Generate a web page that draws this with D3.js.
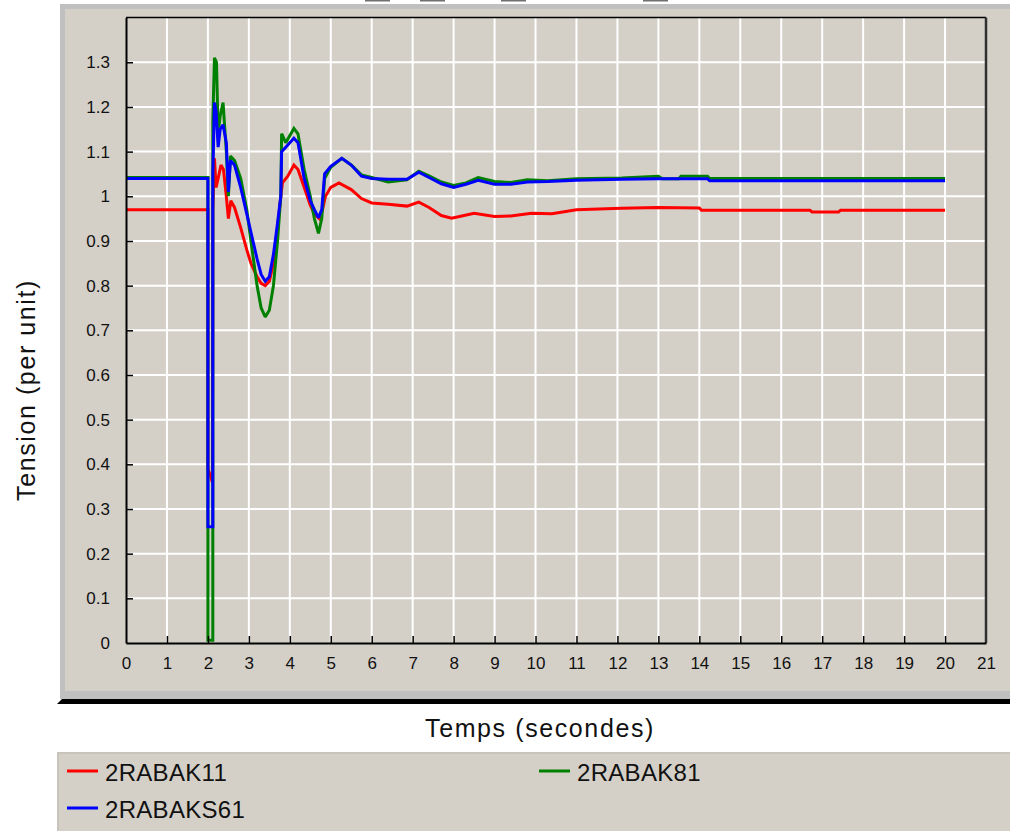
<!DOCTYPE html>
<html>
<head>
<meta charset="utf-8">
<script src="https://cdn.jsdelivr.net/npm/d3@7"></script>
<style>
  body { margin: 0; background: #ffffff; }
  svg { display: block; font-family: "Liberation Sans", Arial, sans-serif; }
</style>
</head>
<body>
<script>
// series: [temps (s), tension (pu)]
const serie2RABAK11 = [[0,0.97],[2.0,0.97],[2.0,0.39],[2.11,0.36],[2.12,0.97],[2.16,1.085],[2.2,1.02],[2.25,1.04],[2.32,1.07],[2.38,1.06],
  [2.45,1.0],[2.5,0.95],[2.56,0.99],[2.65,0.975],[2.8,0.93],[2.95,0.88],[3.05,0.85],[3.2,0.82],[3.3,0.805],[3.4,0.80],
  [3.5,0.81],[3.6,0.85],[3.7,0.93],[3.78,1.0],[3.82,1.03],[3.95,1.045],[4.1,1.07],[4.2,1.06],[4.35,1.02],[4.5,0.98],
  [4.6,0.96],[4.72,0.95],[4.8,0.97],[4.87,1.0],[5.0,1.02],[5.2,1.03],[5.5,1.015],[5.75,0.995],[6.0,0.985],[6.4,0.982],
  [6.86,0.978],[7.15,0.987],[7.4,0.975],[7.7,0.957],[7.95,0.951],[8.2,0.956],[8.5,0.962],[9.0,0.955],[9.4,0.956],[9.9,0.962],
  [10.4,0.961],[11.0,0.97],[12.1,0.973],[13.0,0.975],[14.0,0.974],[14.05,0.969],[16.7,0.969],[16.75,0.965],[17.4,0.965],[17.45,0.969],[20,0.969]];

const serie2RABAK81 = [[0,1.042],[2.0,1.042],[2.0,0.006],[2.12,0.006],[2.12,1.17],[2.16,1.31],[2.21,1.30],[2.25,1.14],[2.3,1.18],[2.37,1.21],
  [2.45,1.1],[2.5,1.0],[2.55,1.09],[2.65,1.08],[2.8,1.04],[2.95,0.97],[3.05,0.90],[3.2,0.80],[3.3,0.75],[3.4,0.73],
  [3.5,0.745],[3.6,0.80],[3.7,0.90],[3.78,1.0],[3.8,1.14],[3.9,1.12],[4.1,1.152],[4.2,1.14],[4.35,1.06],[4.5,1.0],
  [4.6,0.95],[4.7,0.917],[4.78,0.95],[4.85,1.04],[5.0,1.065],[5.27,1.085],[5.5,1.07],[5.75,1.048],[6.0,1.042],[6.4,1.032],
  [6.86,1.037],[7.15,1.056],[7.4,1.046],[7.7,1.032],[8.0,1.024],[8.3,1.03],[8.6,1.042],[9.0,1.033],[9.4,1.031],[9.8,1.037],
  [10.3,1.035],[11.0,1.039],[12.1,1.041],[13.0,1.045],[13.1,1.039],[13.5,1.039],[13.55,1.045],[14.2,1.045],[14.25,1.04],[20,1.04]];

const serie2RABAKS61 = [[0,1.04],[2.0,1.04],[2.0,0.26],[2.12,0.26],[2.12,1.05],[2.16,1.21],[2.2,1.19],[2.25,1.11],[2.3,1.15],[2.37,1.16],
  [2.45,1.12],[2.5,1.01],[2.55,1.08],[2.65,1.07],[2.8,1.02],[2.95,0.96],[3.05,0.92],[3.2,0.86],[3.3,0.825],[3.4,0.81],
  [3.5,0.82],[3.6,0.87],[3.7,0.94],[3.78,1.0],[3.8,1.10],[3.9,1.11],[4.1,1.13],[4.2,1.12],[4.35,1.04],[4.5,0.99],
  [4.6,0.97],[4.7,0.952],[4.78,0.97],[4.85,1.05],[5.0,1.067],[5.27,1.085],[5.5,1.07],[5.75,1.045],[6.0,1.04],[6.4,1.038],
  [6.86,1.038],[7.15,1.054],[7.4,1.042],[7.7,1.028],[8.0,1.02],[8.3,1.027],[8.6,1.036],[9.0,1.027],[9.4,1.027],[9.8,1.032],
  [10.3,1.033],[11.0,1.036],[12.1,1.038],[13.0,1.039],[14.2,1.039],[14.25,1.035],[20,1.035]];

const seriesNames = ["2RABAK11", "2RABAK81", "2RABAKS61"];
const seriesColors = ["#ff0000", "#008000", "#0000ff"];
const seriesData = [serie2RABAK11, serie2RABAK81, serie2RABAKS61];

const xTicks = d3.range(0, 22, 1);            // 0 .. 21
const yTicks = d3.range(0, 14).map(d => d / 10); // 0 .. 1.3
const xTitle = "Temps (secondes)";
const yTitle = "Tension (per unit)";

const W = 1010, H = 831;
const plot = { left: 126, right: 986, top: 17.6, bottom: 643 };

const svg = d3.select("body").append("svg").attr("width", W).attr("height", H);

// grey window panel behind the plot
svg.append("rect").attr("x", 60).attr("y", 4).attr("width", 960).attr("height", 695).attr("fill", "#c0c0c0");
svg.append("rect").attr("x", 65).attr("y", 9).attr("width", 955).attr("height", 682).attr("fill", "#d4d0c8");
svg.append("path").attr("d", "M57,704 L62,699 L1010,699 L1010,704 Z").attr("fill", "#000");

// what is left of the clipped title on the top edge
for (const [a, b] of [[365, 390], [420, 445], [501, 526], [643, 668]]) {
  svg.append("rect").attr("x", a).attr("y", 0).attr("width", b - a).attr("height", 1.5).attr("fill", "#707070");
}

const x = d3.scaleLinear().domain([0, 21]).range([plot.left, plot.right]);
const y = d3.scaleLinear().domain([0, 1.4]).range([plot.bottom, plot.top]);

// grid
const grid = svg.append("g").attr("stroke", "#ffffff").attr("stroke-width", 2);
grid.selectAll("line.v").data(xTicks.slice(1, -1)).join("line").attr("class", "v")
  .attr("x1", d => x(d)).attr("x2", d => x(d)).attr("y1", plot.top).attr("y2", plot.bottom);
grid.selectAll("line.h").data(yTicks.slice(1)).join("line").attr("class", "h")
  .attr("x1", plot.left).attr("x2", plot.right).attr("y1", d => y(d)).attr("y2", d => y(d));

// frame top / right
svg.append("line").attr("x1", plot.left).attr("x2", plot.right).attr("y1", plot.top).attr("y2", plot.top)
  .attr("stroke", "#000").attr("stroke-width", 1.5);
svg.append("line").attr("x1", plot.right).attr("x2", plot.right).attr("y1", plot.top).attr("y2", plot.bottom)
  .attr("stroke", "#303030").attr("stroke-width", 2.5);

// series
svg.append("clipPath").attr("id", "clip").append("rect")
  .attr("x", plot.left).attr("y", plot.top).attr("width", plot.right - plot.left).attr("height", plot.bottom - plot.top);
const line = d3.line().x(d => x(d[0])).y(d => y(d[1]));
svg.append("g").attr("clip-path", "url(#clip)")
  .selectAll("path").data(seriesData).join("path")
  .attr("d", line).attr("fill", "none")
  .attr("stroke", (d, i) => seriesColors[i]).attr("stroke-width", 3)
  .attr("stroke-linejoin", "miter").attr("stroke-miterlimit", 2);

// axes: ticks point into the plot
const xAxis = d3.axisBottom(x).tickValues(xTicks).tickSizeInner(-7).tickSizeOuter(0).tickPadding(14).tickFormat(d3.format("d"));
const yAxis = d3.axisLeft(y).tickValues(yTicks).tickSizeInner(-7).tickSizeOuter(0).tickPadding(16).tickFormat(d => String(+d.toFixed(1)));

const gx = svg.append("g").attr("transform", `translate(0,${plot.bottom})`).call(xAxis);
const gy = svg.append("g").attr("transform", `translate(${plot.left},0)`).call(yAxis);
for (const g of [gx, gy]) {
  g.select(".domain").attr("stroke", "#000").attr("stroke-width", 2);
  g.selectAll(".tick line").attr("stroke", "#000").attr("stroke-width", 1.5);
  g.selectAll("text").attr("fill", "#111").style("font-size", "17px").attr("font-family", "Liberation Sans, Arial, sans-serif");
}
gx.selectAll(".tick line").filter(d => d === 0 || d === 21).remove();
gy.selectAll(".tick line").filter(d => d === 0).remove();

// axis titles
svg.append("text").attr("x", 540).attr("y", 737).attr("text-anchor", "middle")
  .style("font-size", "25px").style("letter-spacing", "1.6px").attr("fill", "#111").text(xTitle);
svg.append("text").attr("transform", "translate(35,390) rotate(-90)").attr("text-anchor", "middle")
  .style("font-size", "25px").style("letter-spacing", "1.6px").attr("fill", "#111").text(yTitle);

// legend box
svg.append("rect").attr("x", 57).attr("y", 752).attr("width", 960).attr("height", 90).attr("fill", "#c8c4bc");
svg.append("rect").attr("x", 59).attr("y", 754).attr("width", 960).attr("height", 90).attr("fill", "#d4d0c8");
const legendPos = [[67, 771], [539, 771], [67, 808]];
const legend = svg.append("g").selectAll("g").data(seriesNames).join("g")
  .attr("transform", (d, i) => `translate(${legendPos[i][0]},${legendPos[i][1]})`);
legend.append("line").attr("x1", 0).attr("x2", 31).attr("y1", 0).attr("y2", 0)
  .attr("stroke", (d, i) => seriesColors[i]).attr("stroke-width", 3);
legend.append("text").attr("x", 38).attr("y", 9.5)
  .style("font-size", "24px").style("letter-spacing", "0.3px").attr("fill", "#111").text(d => d);
</script>
</body>
</html>
